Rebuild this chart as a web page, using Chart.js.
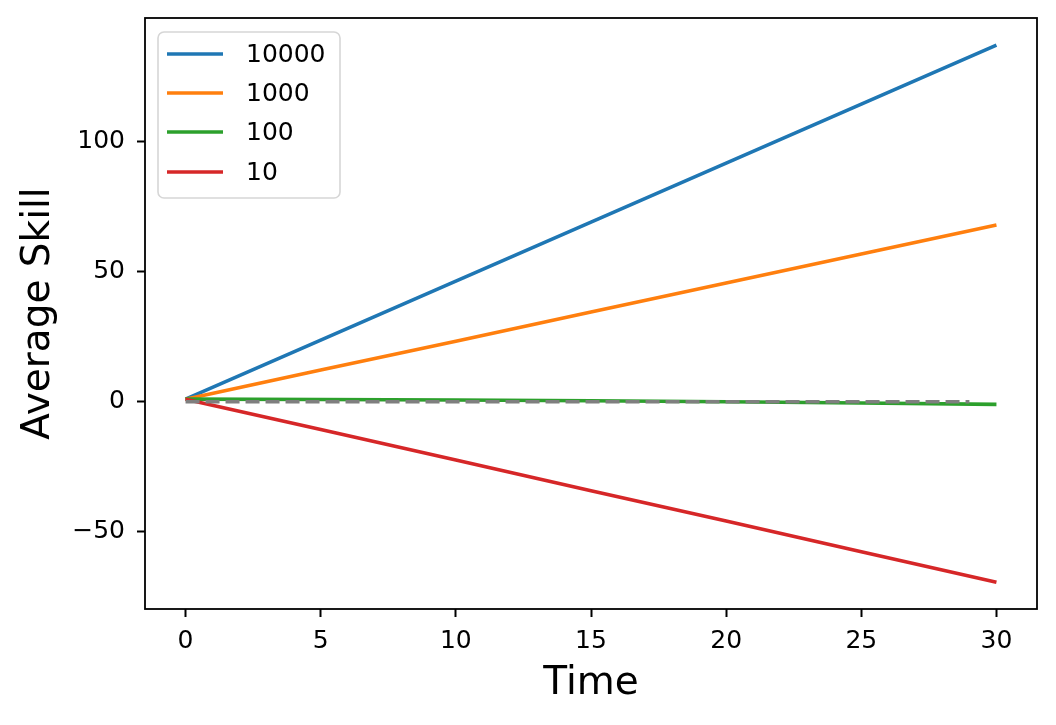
<!DOCTYPE html>
<html><head><meta charset="utf-8">
<script src="https://cdn.jsdelivr.net/npm/chart.js@4"></script>
<style>html,body{margin:0;padding:0;background:#fff}</style>
</head><body>
<canvas id="c" width="1056" height="725"></canvas>
<script>
// ---- data ----
const times = [0, 5, 10, 15, 20, 25, 30];
const s10000 = [1.0, 23.7, 46.4, 69.1, 91.8, 114.5, 137.2];
const s1000 = [1.0, 12.2, 23.3, 34.5, 45.7, 56.8, 68.0];
const s100 = [1.0, 0.9, 0.7, 0.4, 0.0, -0.5, -1.0];
const s10 = [1.0, -10.7, -22.4, -34.2, -45.9, -57.7, -69.4];
const refTimes = [0, 29];
const refValues = [0, 0];
const seriesLabels = ['10000', '1000', '100', '10'];
const xTicks = [0, 5, 10, 15, 20, 25, 30];
const yTicks = [-50, 0, 50, 100];
const xTitle = 'Time';
const yTitle = 'Average Skill';

const colors = ['#1f77b4', '#ff7f0e', '#2ca02c', '#d62728'];
const pts = (xs, ys) => xs.map((x, i) => ({x: x, y: ys[i]}));

Chart.defaults.font.family = "'DejaVu Sans', sans-serif";
Chart.defaults.color = '#000';

const lineDefaults = {pointRadius: 0, borderWidth: 3.6, tension: 0, fill: false};
const seriesData = [s10000, s1000, s100, s10];
const datasets = seriesData.map((d, i) => Object.assign({
  label: seriesLabels[i], data: pts(times, d), borderColor: colors[i], backgroundColor: colors[i],
  order: 4 - i
}, lineDefaults));
datasets.push(Object.assign({
  label: 'ref', data: pts(refTimes, refValues), borderColor: '#7f7f7f', backgroundColor: '#7f7f7f',
  borderDash: [14, 6], order: 0, legendHidden: true
}, lineDefaults));

const framePlugin = {
  id: 'frame',
  afterDatasetsDraw(chart) {
    const {ctx, chartArea: a} = chart;
    ctx.save();
    ctx.strokeStyle = '#000';
    ctx.lineWidth = 1.8;
    ctx.strokeRect(a.left, a.top, a.right - a.left, a.bottom - a.top);
    ctx.restore();
  }
};

const legendPlugin = {
  id: 'mplLegend',
  afterDraw(chart) {
    const {ctx, chartArea: a} = chart;
    const items = chart.data.datasets.filter(d => !d.legendHidden);
    const x0 = a.left + 13, y0 = a.top + 14;
    const rowH = 39, w = 182, h = items.length * rowH + 10;
    ctx.save();
    ctx.beginPath();
    const r = 6;
    ctx.moveTo(x0 + r, y0);
    ctx.arcTo(x0 + w, y0, x0 + w, y0 + h, r);
    ctx.arcTo(x0 + w, y0 + h, x0, y0 + h, r);
    ctx.arcTo(x0, y0 + h, x0, y0, r);
    ctx.arcTo(x0, y0, x0 + w, y0, r);
    ctx.closePath();
    ctx.fillStyle = 'rgba(255,255,255,0.8)';
    ctx.fill();
    ctx.strokeStyle = '#d6d6d6';
    ctx.lineWidth = 1.6;
    ctx.stroke();
    ctx.font = "25px 'DejaVu Sans'";
    ctx.textBaseline = 'middle';
    ctx.textAlign = 'left';
    items.forEach((d, i) => {
      const y = y0 + 22 + i * rowH + (i === 3 ? 1 : 0);
      ctx.strokeStyle = d.borderColor;
      ctx.lineWidth = 3.6;
      ctx.beginPath();
      ctx.moveTo(x0 + 9, y);
      ctx.lineTo(x0 + 65, y);
      ctx.stroke();
      ctx.fillStyle = '#000';
      ctx.fillText(d.label, x0 + 88, y + 1);
    });
    ctx.restore();
  }
};

const fmt = v => (v < 0 ? '\u2212' + Math.abs(v) : String(v));

new Chart(document.getElementById('c'), {
  type: 'line',
  data: {datasets: datasets},
  options: {
    responsive: false,
    animation: false,
    layout: {padding: {top: 18, right: 19, left: 0, bottom: 0}},
    plugins: {legend: {display: false}, tooltip: {enabled: false}},
    scales: {
      x: {
        type: 'linear', min: -1.5, max: 31.5,
        afterBuildTicks: s => { s.ticks = xTicks.map(v => ({value: v})); },
        afterFit: s => { s.height = 116; s.paddingLeft = 0; s.paddingRight = 0; },
        ticks: {font: {size: 25}, padding: 9, callback: fmt, maxRotation: 0},
        grid: {display: true, drawOnChartArea: false, drawTicks: true, tickLength: 8, tickWidth: 2, tickColor: '#000', color: '#000'},
        border: {display: false},
        title: {display: true, text: xTitle, font: {size: 39, lineHeight: 1}, padding: {top: 0, bottom: 22}}
      },
      y: {
        type: 'linear', min: -79.7, max: 147.6,
        afterBuildTicks: s => { s.ticks = yTicks.map(v => ({value: v})); },
        afterFit: s => { s.width = 145; s.paddingTop = 0; s.paddingBottom = 0; },
        ticks: {font: {size: 25}, padding: 12, callback: fmt},
        grid: {display: true, drawOnChartArea: false, drawTicks: true, tickLength: 8, tickWidth: 2, tickColor: '#000', color: '#000'},
        border: {display: false},
        title: {display: true, text: yTitle, font: {size: 39, lineHeight: 1}, padding: {top: 19, bottom: 0}}
      }
    }
  },
  plugins: [framePlugin, legendPlugin]
});
</script>
</body></html>
